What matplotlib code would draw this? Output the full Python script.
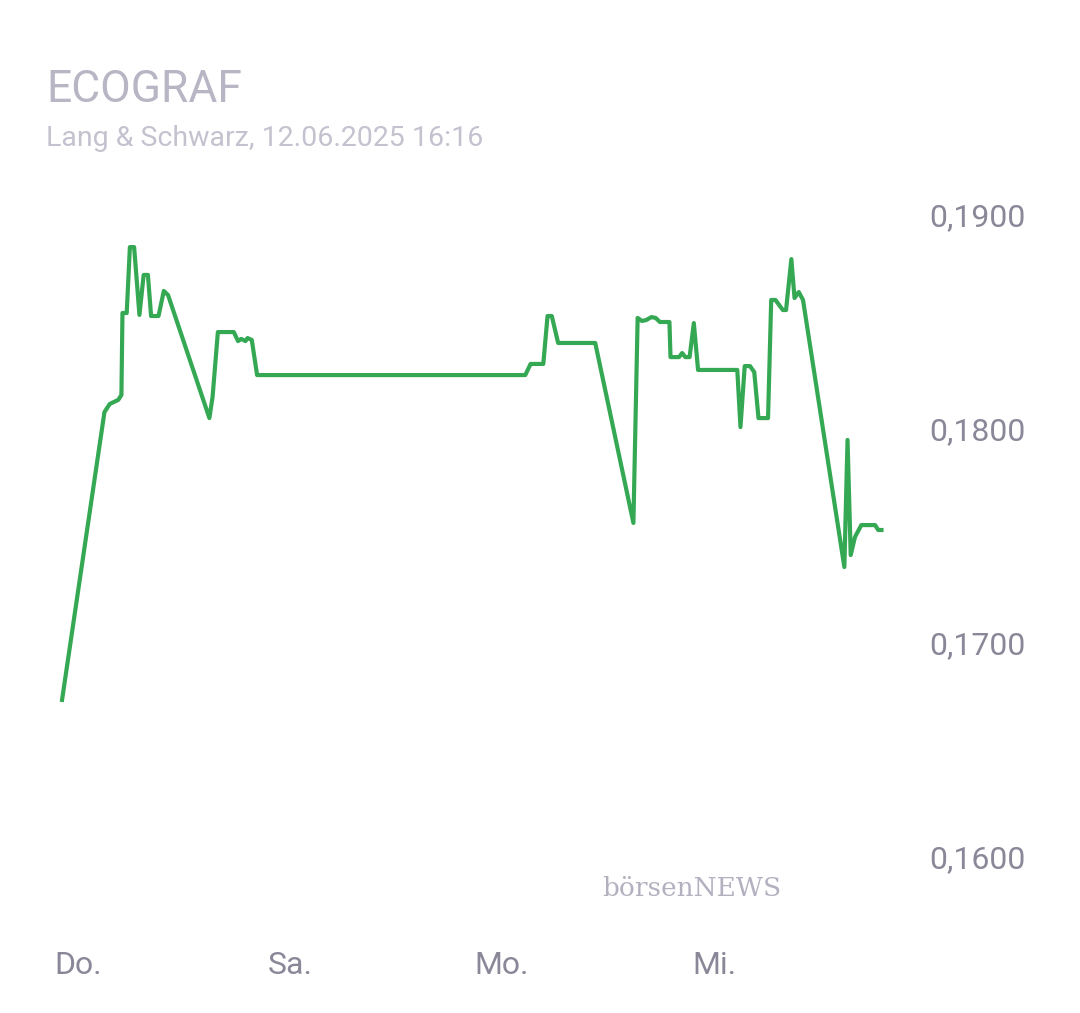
import matplotlib

matplotlib.use("Agg")
import matplotlib.pyplot as plt  # noqa: E402

# time in days from Thursday 00:00, price in EUR
DAYS = [-0.15, 0.25, 0.30, 0.38, 0.41, 0.42, 0.46, 0.49, 0.53, 0.58, 0.62, 0.66, 0.69, 0.76,
        0.81, 0.85, 1.24, 1.27, 1.32, 1.47, 1.51, 1.54, 1.58, 1.60, 1.64, 1.69, 4.22, 4.27,
        4.39, 4.43, 4.47, 4.53, 4.88, 5.24, 5.28, 5.32, 5.36, 5.41, 5.45, 5.49, 5.58, 5.59,
        5.67, 5.70, 5.73, 5.77, 5.81, 5.85, 6.22, 6.25, 6.29, 6.34, 6.38, 6.42, 6.51, 6.54,
        6.58, 6.65, 6.68, 6.73, 6.76, 6.80, 6.84, 7.23, 7.26, 7.29, 7.33, 7.39, 7.52, 7.55, 7.58]
PRICES = [0.16734, 0.18079, 0.18117, 0.18136, 0.18159, 0.18542, 0.18542, 0.18850, 0.18850,
          0.18533, 0.18720, 0.18720, 0.18528, 0.18528, 0.18645, 0.18626, 0.18051, 0.18150,
          0.18453, 0.18453, 0.18411, 0.18421, 0.18411, 0.18425, 0.18416, 0.18252, 0.18252,
          0.18304, 0.18304, 0.18528, 0.18528, 0.18402, 0.18402, 0.17561, 0.18519, 0.18505,
          0.18509, 0.18523, 0.18519, 0.18500, 0.18500, 0.18336, 0.18336, 0.18355, 0.18336,
          0.18336, 0.18495, 0.18276, 0.18276, 0.18009, 0.18294, 0.18294, 0.18266, 0.18051,
          0.18051, 0.18603, 0.18603, 0.18556, 0.18556, 0.18794, 0.18612, 0.18640, 0.18603,
          0.17355, 0.17949, 0.17411, 0.17495, 0.17551, 0.17551, 0.17528, 0.17528]
TICK_DAYS = [0, 2, 4, 6]
TICK_NAMES = ["Do.", "Sa.", "Mo.", "Mi."]
Y_TICKS = [0.16, 0.17, 0.18, 0.19]

W, H = 1080, 1013
plt.rcParams["font.family"] = ["Roboto", "DejaVu Sans"]
fig = plt.figure(figsize=(W / 100, H / 100), dpi=100)
ax = fig.add_axes([40 / W, 1 - 920 / H, 860 / W, 740 / H])
ax.plot(DAYS, PRICES, color="#34a853", linewidth=3)
ax.set_xlim(-0.358, 7.755)
ax.set_ylim(0.157056, 0.191636)
ax.set_xticks(TICK_DAYS, TICK_NAMES)
ax.set_yticks(Y_TICKS, [f"{v:.4f}".replace(".", ",") for v in Y_TICKS])
ax.yaxis.tick_right()
ax.tick_params(length=0, labelsize=23, colors="#8a8898")
ax.tick_params(axis="y", pad=21)
ax.tick_params(axis="x", pad=22)
for s in ax.spines.values():
    s.set_visible(False)

fig.text(46 / W, 1 - 90 / H, "ECOGRAF", fontsize=32, color="#b8b6c4", va="center")
fig.text(46 / W, 1 - 138 / H, "Lang & Schwarz, 12.06.2025 16:16", fontsize=20.5,
         color="#c4c2cf", va="center")
fig.text(602 / W, 1 - 888 / H, "börsenNEWS", fontsize=19, family="DejaVu Serif",
         color="#b3b1c0", va="center")
fig.savefig("out.png", dpi=100)
